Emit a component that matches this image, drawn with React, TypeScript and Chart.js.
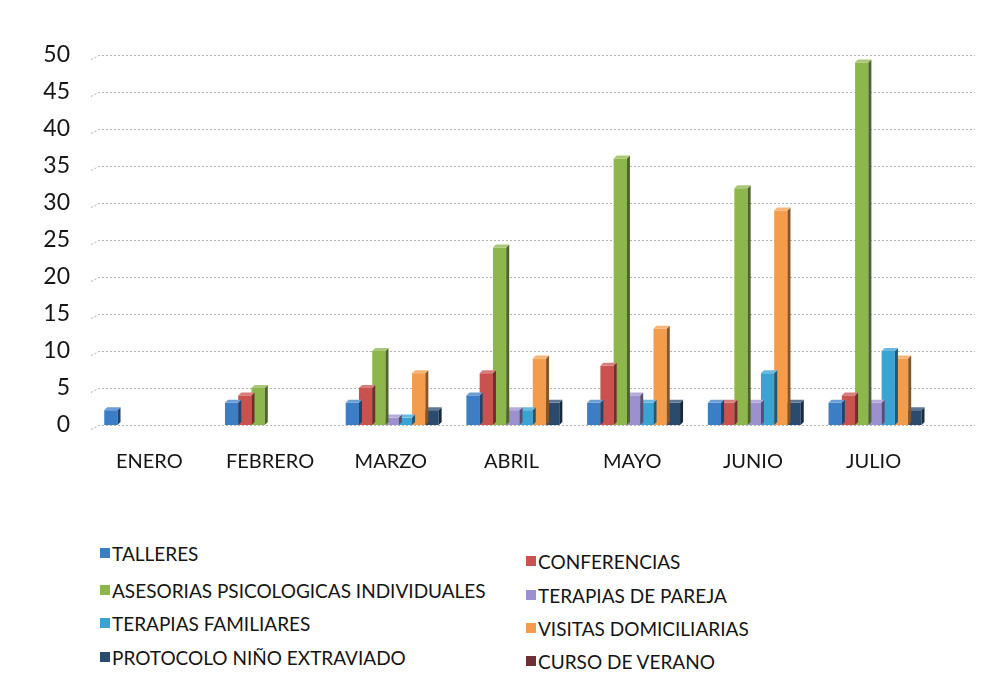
import React, { useEffect, useRef } from "react";
import { Chart, registerables } from "chart.js";
Chart.register(...registerables);

const months = ["ENERO", "FEBRERO", "MARZO", "ABRIL", "MAYO", "JUNIO", "JULIO"];
const talleres = [2, 3, 3, 4, 3, 3, 3];
const conferencias = [0, 4, 5, 7, 8, 3, 4];
const asesorias = [0, 5, 10, 24, 36, 32, 49];
const terapiasPareja = [0, 0, 1, 2, 4, 3, 3];
const terapiasFamiliares = [0, 0, 1, 2, 3, 7, 10];
const visitasDomiciliarias = [0, 0, 7, 9, 13, 29, 9];
const protocoloNino = [0, 0, 2, 3, 3, 3, 2];
const cursoVerano = [0, 0, 0, 0, 0, 0, 0];
const yTicks = [0, 5, 10, 15, 20, 25, 30, 35, 40, 45, 50];

const seriesNames = [
  "TALLERES",
  "CONFERENCIAS",
  "ASESORIAS PSICOLOGICAS INDIVIDUALES",
  "TERAPIAS DE PAREJA",
  "TERAPIAS FAMILIARES",
  "VISITAS DOMICILIARIAS",
  "PROTOCOLO NIÑO EXTRAVIADO",
  "CURSO DE VERANO",
];
const seriesValues = [
  talleres,
  conferencias,
  asesorias,
  terapiasPareja,
  terapiasFamiliares,
  visitasDomiciliarias,
  protocoloNino,
  cursoVerano,
];
const seriesColors = [
  "#3B7EC6",
  "#C9524F",
  "#8DB64C",
  "#9C90CF",
  "#3BA2D4",
  "#F39C4B",
  "#2A4A6E",
  "#6E3035",
];

const FONT = "Lato, 'Open Sans', sans-serif";

function shade(hex: string, f: number) {
  const n = parseInt(hex.slice(1), 16);
  let r = (n >> 16) & 255, g = (n >> 8) & 255, b = n & 255;
  if (f < 0) {
    r = Math.round(r * (1 + f)); g = Math.round(g * (1 + f)); b = Math.round(b * (1 + f));
  } else {
    r = Math.round(r + (255 - r) * f); g = Math.round(g + (255 - g) * f); b = Math.round(b + (255 - b) * f);
  }
  return `rgb(${r},${g},${b})`;
}

const wallGrid = {
  id: "wallGrid",
  beforeDatasetsDraw(chart: any) {
    const { ctx, chartArea, scales } = chart;
    ctx.save();
    ctx.strokeStyle = "rgba(100,100,100,0.5)";
    ctx.lineWidth = 1;
    ctx.setLineDash([2, 2]);
    yTicks.forEach((v) => {
      const y = Math.round(scales.y.getPixelForValue(v)) + 0.5;
      ctx.beginPath();
      ctx.moveTo(chartArea.left - 6, y + 4);
      ctx.lineTo(chartArea.left + 2, y);
      ctx.lineTo(975, y);
      ctx.stroke();
    });
    ctx.restore();
  },
};

const bar3d = {
  id: "bar3d",
  afterDatasetDraw(chart: any, args: any) {
    const meta = chart.getDatasetMeta(args.index);
    const ctx = chart.ctx;
    const d = 3;
    const base = seriesColors[args.index];
    ctx.save();
    meta.data.forEach((el: any) => {
      const p = el.getProps(["x", "y", "base", "width"], true);
      if (Math.abs(p.base - p.y) < 0.5) return;
      const l = p.x - p.width / 2;
      const r = p.x + p.width / 2;
      ctx.fillStyle = shade(base, -0.45);
      ctx.beginPath();
      ctx.moveTo(r, p.y);
      ctx.lineTo(r + d, p.y - d);
      ctx.lineTo(r + d, p.base - d);
      ctx.lineTo(r, p.base);
      ctx.closePath();
      ctx.fill();
      ctx.fillStyle = shade(base, 0.25);
      ctx.beginPath();
      ctx.moveTo(l, p.y);
      ctx.lineTo(l + d, p.y - d);
      ctx.lineTo(r + d, p.y - d);
      ctx.lineTo(r, p.y);
      ctx.closePath();
      ctx.fill();
    });
    ctx.restore();
  },
};

export default function App() {
  const ref = useRef<HTMLCanvasElement>(null);
  useEffect(() => {
    if (!ref.current) return;
    const chart = new Chart(ref.current, {
      type: "bar",
      data: {
        labels: months,
        datasets: seriesNames.map((name, i) => ({
          label: name,
          data: seriesValues[i],
          backgroundColor: seriesColors[i],
          borderWidth: 0,
          categoryPercentage: 0.88,
          barPercentage: 1.0,
        })),
      },
      options: {
        animation: false,
        responsive: false,
        maintainAspectRatio: false,
        layout: { padding: { left: 0, right: 47, top: 55, bottom: 10 } },
        plugins: { legend: { display: false }, tooltip: { enabled: false } },
        scales: {
          x: {
            grid: { display: false, drawTicks: false },
            border: { display: false },
            ticks: {
              font: { family: FONT, size: 20 },
              color: "#151515",
              padding: 25,
              labelOffset: -8,
              maxRotation: 0,
            },
          },
          y: {
            min: 0,
            max: 50,
            afterFit: (s: any) => {
              s.width = 97;
            },
            grid: { display: false, drawTicks: false },
            border: { display: false },
            ticks: {
              stepSize: 5,
              font: { family: FONT, size: 23 },
              color: "#151515",
              padding: 27,
            },
          },
        },
      },
      plugins: [wallGrid, bar3d],
    });
    return () => chart.destroy();
  }, []);

  const legendRows = [
    [0, 1],
    [2, 3],
    [4, 5],
    [6, 7],
  ];
  const leftTops = [553, 590, 623, 657];
  const rightTops = [561, 595, 628, 661];

  return (
    <div
      style={{
        position: "fixed",
        left: 0,
        top: 0,
        width: 989,
        height: 685,
        background: "#ffffff",
        overflow: "hidden",
        fontFamily: FONT,
      }}
    >
      <canvas ref={ref} width={989} height={509} style={{ display: "block" }} />
      {legendRows.map((row, ri) =>
        row.map((si, ci) => (
          <div
            key={si}
            style={{
              position: "absolute",
              left: ci === 0 ? 100 : 526,
              top: (ci === 0 ? leftTops[ri] : rightTops[ri]) - 12,
              height: 24,
              display: "flex",
              alignItems: "center",
              fontSize: 19,
              color: "#151515",
              whiteSpace: "nowrap",
            }}
          >
            <span
              style={{
                display: "inline-block",
                width: 10,
                height: 10,
                background: seriesColors[si],
                marginRight: 2,
              }}
            />
            {seriesNames[si]}
          </div>
        ))
      )}
    </div>
  );
}
